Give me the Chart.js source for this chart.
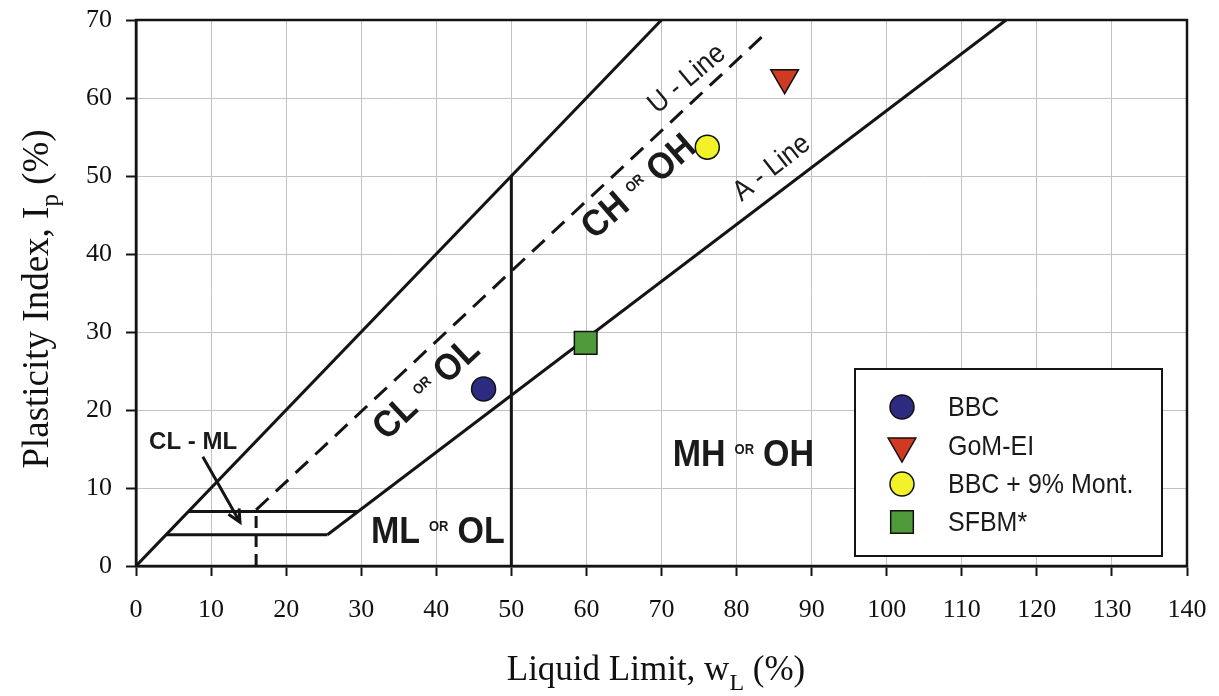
<!DOCTYPE html>
<html>
<head>
<meta charset="utf-8">
<script src="https://cdn.jsdelivr.net/npm/chart.js@4.4.0/dist/chart.umd.min.js"></script>
<style>
  html, body { margin: 0; padding: 0; background: #fff; }
  #wrap { width: 1219px; height: 696px; }
</style>
</head>
<body>
<div id="wrap"><canvas id="carta" width="1219" height="696"></canvas></div>
<script>
// Carta de plasticidad de Casagrande con los suelos ensayados

// Muestras
const muestras = ['BBC', 'GoM-EI', 'BBC + 9% Mont.', 'SFBM*'];
const muestrasLL = [46.3, 86.4, 76.1, 59.9];
const muestrasIP = [22.7, 62.6, 53.7, 28.6];
const muestrasColor = ['#2c2b80', '#d13a22', '#f1f228', '#4f9b3b'];
const muestrasForma = ['circle', 'triangle', 'circle', 'rect'];
const muestrasRadio = [12, 16, 12, 16];
const muestrasGiro = [0, 180, 0, 0];

// Límites de la carta (LL, IP)
const limiteLL = [0, 70];        const limiteIP = [0, 70];
const lineaU_LL = [16, 84];      const lineaU_IP = [7.2, 68.4];
const lineaA_LL = [25.5, 115.9]; const lineaA_IP = [4, 70];
const corte50LL = [50, 50];      const corte50IP = [0, 50];
const franja7LL = [7, 29.6];     const franja7IP = [7, 7];
const franja4LL = [4, 25.5];     const franja4IP = [4, 4];
const corte16LL = [16, 16];      const corte16IP = [0, 7];

// Ejes
const ticksLL = [0, 10, 20, 30, 40, 50, 60, 70, 80, 90, 100, 110, 120, 130, 140];
const ticksIP = [0, 10, 20, 30, 40, 50, 60, 70];

// Rótulos de zonas: [texto grande, texto chico "OR", texto grande], LL, IP, ángulo
const zonas = [
  { partes: ['CL', 'OR', 'OL'], ll: 38.5, ip: 22.9, ang: -43 },
  { partes: ['CH', 'OR', 'OH'], ll: 66.8, ip: 48.8, ang: -41 },
  { partes: ['MH', 'OR', 'OH'], ll: 80.9, ip: 14.5, ang: 0 },
  { partes: ['ML', 'OR', 'OL'], ll: 40.2, ip: 4.6, ang: 0 }
];
const lineasTexto = [
  { texto: 'U - Line', ll: 73.4, ip: 62.4, ang: -40 },
  { texto: 'A - Line', ll: 84.7, ip: 51.0, ang: -38 }
];

const SANS = '"Liberation Sans", Arial, Helvetica, sans-serif';
const SERIF = '"Liberation Serif", "Times New Roman", serif';

function linea(llArr, ipArr, dash) {
  return {
    label: '',
    data: llArr.map((x, i) => ({ x: x, y: ipArr[i] })),
    showLine: true,
    borderColor: '#141414',
    borderWidth: 3,
    borderDash: dash || [],
    pointRadius: 0,
    pointHoverRadius: 0,
    fill: false,
    order: 2
  };
}

const dsLimites = [
  linea(limiteLL, limiteIP),
  linea(lineaU_LL, lineaU_IP, [17, 10]),
  linea(lineaA_LL, lineaA_IP),
  linea(corte50LL, corte50IP),
  linea(franja7LL, franja7IP),
  linea(franja4LL, franja4IP),
  linea(corte16LL, corte16IP, [12, 7])
];

const dsMuestras = muestras.map((nombre, i) => ({
  label: nombre,
  data: [{ x: muestrasLL[i], y: muestrasIP[i] }],
  backgroundColor: muestrasColor[i],
  borderColor: '#111',
  borderWidth: 1.5,
  pointStyle: muestrasForma[i],
  pointRadius: muestrasRadio[i],
  pointHoverRadius: muestrasRadio[i],
  pointRotation: muestrasGiro[i],
  order: 0
}));

// texto con "OR" chico a media altura
function rotuloZona(c, z, x, y) {
  const grande = 'bold 34px ' + SANS;
  const chico = 'bold 13px ' + SANS;
  c.save();
  c.translate(x, y);
  c.rotate(z.ang * Math.PI / 180);
  c.scale(1, 1.1);
  c.fillStyle = '#1a1a1a';
  c.textBaseline = 'alphabetic';
  c.font = grande;
  const w0 = c.measureText(z.partes[0]).width;
  const w2 = c.measureText(z.partes[2]).width;
  c.font = chico;
  const w1 = c.measureText(z.partes[1]).width;
  const hueco = 9;
  const total = w0 + w1 + w2 + 2 * hueco;
  let px = -total / 2;
  const base = 12;
  c.font = grande;
  c.fillText(z.partes[0], px, base);
  px += w0 + hueco;
  c.font = chico;
  c.fillText(z.partes[1], px, base - 11);
  px += w1 + hueco;
  c.font = grande;
  c.fillText(z.partes[2], px, base);
  c.restore();
}

// texto con subíndice
function textoSub(c, principal, sub, resto, x, y, tam, rot) {
  c.save();
  c.translate(x, y);
  if (rot) c.rotate(rot);
  c.fillStyle = '#111';
  c.textBaseline = 'alphabetic';
  const fPrin = tam + 'px ' + SERIF;
  const fSub = Math.round(tam * 0.68) + 'px ' + SERIF;
  c.font = fPrin;
  const a = c.measureText(principal).width;
  const r = c.measureText(resto).width;
  c.font = fSub;
  const b = c.measureText(sub).width;
  let px = -(a + b + r) / 2;
  c.font = fPrin;
  c.fillText(principal, px, 0);
  px += a;
  c.font = fSub;
  c.fillText(sub, px, tam * 0.28);
  px += b;
  c.font = fPrin;
  c.fillText(resto, px, 0);
  c.restore();
}

const rotulos = {
  id: 'rotulos',
  afterDatasetsDraw(chart) {
    const c = chart.ctx;
    const sx = chart.scales.x, sy = chart.scales.y;
    const area = chart.chartArea;

    // marco completo del gráfico
    c.save();
    c.strokeStyle = '#141414';
    c.lineWidth = 2.5;
    c.strokeRect(area.left, area.top, area.right - area.left, area.bottom - area.top);
    c.restore();

    zonas.forEach(z => rotuloZona(c, z, sx.getPixelForValue(z.ll), sy.getPixelForValue(z.ip)));

    lineasTexto.forEach(t => {
      c.save();
      c.translate(sx.getPixelForValue(t.ll), sy.getPixelForValue(t.ip));
      c.rotate(t.ang * Math.PI / 180);
      c.scale(1, 1.1);
      c.font = '26px ' + SANS;
      c.fillStyle = '#1a1a1a';
      c.textAlign = 'center';
      c.textBaseline = 'middle';
      c.fillText(t.texto, 0, 0);
      c.restore();
    });

    // CL - ML con flecha
    c.save();
    c.font = 'bold 24px ' + SANS;
    c.fillStyle = '#1a1a1a';
    c.textAlign = 'center';
    c.textBaseline = 'middle';
    c.fillText('CL - ML', sx.getPixelForValue(7.6), sy.getPixelForValue(15.8));
    const x1 = sx.getPixelForValue(8.9), y1 = sy.getPixelForValue(14.0);
    const x2 = sx.getPixelForValue(13.85), y2 = sy.getPixelForValue(5.6);
    c.strokeStyle = '#141414';
    c.lineWidth = 3;
    c.beginPath();
    c.moveTo(x1, y1);
    c.lineTo(x2, y2);
    const ang = Math.atan2(y2 - y1, x2 - x1);
    c.moveTo(x2 - 14 * Math.cos(ang - 0.45), y2 - 14 * Math.sin(ang - 0.45));
    c.lineTo(x2, y2);
    c.lineTo(x2 - 14 * Math.cos(ang + 0.45), y2 - 14 * Math.sin(ang + 0.45));
    c.stroke();
    c.restore();

    // leyenda
    c.save();
    const lx = 855, ly = 369, lw = 307, lh = 187;
    c.fillStyle = '#fff';
    c.fillRect(lx, ly, lw, lh);
    c.strokeStyle = '#141414';
    c.lineWidth = 2;
    c.strokeRect(lx, ly, lw, lh);
    const filas = [407, 446, 484, 522];
    dsMuestras.forEach((ds, i) => {
      c.fillStyle = ds.backgroundColor;
      c.strokeStyle = ds.borderColor;
      c.lineWidth = ds.borderWidth;
      Chart.helpers.drawPoint(c, {
        pointStyle: ds.pointStyle,
        radius: ds.pointRadius,
        rotation: ds.pointRotation,
        borderWidth: ds.borderWidth
      }, 902, filas[i]);
      c.save();
      c.translate(948, filas[i] + 1);
      c.scale(1, 1.1);
      c.fillStyle = '#1a1a1a';
      c.font = '25px ' + SANS;
      c.textAlign = 'left';
      c.textBaseline = 'middle';
      c.fillText(ds.label, 0, 0);
      c.restore();
    });
    c.restore();
  },
  afterDraw(chart) {
    const c = chart.ctx;
    textoSub(c, 'Liquid Limit, w', 'L', ' (%)', 656, 680, 35, 0);
    textoSub(c, 'Plasticity Index, I', 'p', ' (%)', 48, 299, 37, -Math.PI / 2);
  }
};

new Chart(document.getElementById('carta'), {
  type: 'scatter',
  data: { datasets: dsLimites.concat(dsMuestras) },
  options: {
    responsive: false,
    animation: false,
    events: [],
    layout: { padding: { top: 20, right: 32, left: 0, bottom: 0 } },
    plugins: { legend: { display: false }, tooltip: { enabled: false } },
    scales: {
      x: {
        type: 'linear', min: 0, max: 140,
        afterBuildTicks: s => { s.ticks = ticksLL.map(v => ({ value: v })); },
        afterFit: s => { s.height = 130; s.paddingLeft = 0; s.paddingRight = 0; },
        grid: { color: '#c2c2c2', lineWidth: 1, tickColor: '#141414', tickLength: 10, tickWidth: 2 },
        border: { color: '#141414', width: 2.5 },
        ticks: { font: { family: SERIF, size: 26 }, color: '#111', padding: 19, maxRotation: 0, autoSkip: false }
      },
      y: {
        type: 'linear', min: 0, max: 70,
        afterBuildTicks: s => { s.ticks = ticksIP.map(v => ({ value: v })); },
        afterFit: s => { s.width = 136; s.paddingTop = 0; s.paddingBottom = 0; },
        grid: { color: '#c2c2c2', lineWidth: 1, tickColor: '#141414', tickLength: 10, tickWidth: 2 },
        border: { color: '#141414', width: 2.5 },
        ticks: { font: { family: SERIF, size: 26 }, color: '#111', padding: 14, autoSkip: false }
      }
    }
  },
  plugins: [rotulos]
});
</script>
</body>
</html>
